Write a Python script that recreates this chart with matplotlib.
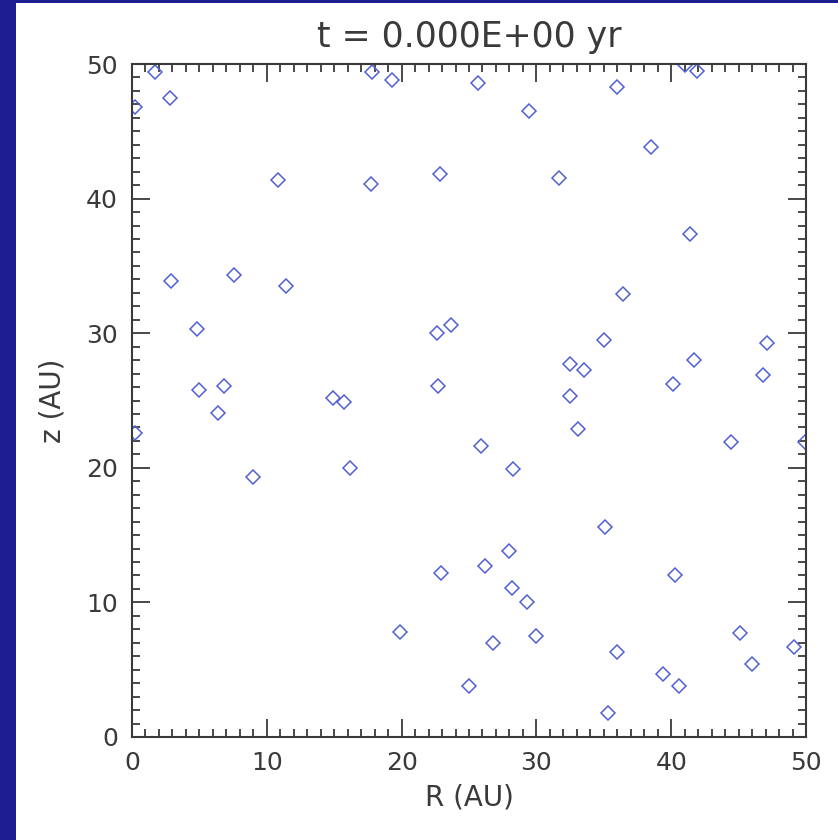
import matplotlib
matplotlib.use("Agg")
import matplotlib.pyplot as plt
from matplotlib.patches import Rectangle
from matplotlib.ticker import MultipleLocator

# particle positions (AU)
r_au = [1.7, 0.2, 2.8, 17.8, 19.3, 10.85, 17.7, 2.9, 7.6, 11.4, 4.85,
        25.7, 29.45, 36.0, 41.0, 41.9, 38.5, 22.85, 31.7, 41.4, 36.4, 22.6, 23.7, 35.0, 47.1,
        5.0, 6.8, 6.4, 0.2, 14.9, 15.7, 9.0, 16.2,
        41.7, 46.8, 32.5, 33.5, 40.1, 22.7, 32.5, 33.1, 44.4, 49.9, 25.9, 28.3, 35.1,
        28.0, 22.9, 26.2, 40.3, 28.2, 29.3,
        19.9, 26.8, 25.0, 30.0, 36.0, 35.3, 39.4, 40.6, 45.1, 46.0, 49.1]
z_au = [49.4, 46.8, 47.5, 49.4, 48.8, 41.4, 41.1, 33.9, 34.3, 33.5, 30.3,
        48.6, 46.5, 48.3, 49.9, 49.5, 43.8, 41.8, 41.5, 37.4, 32.9, 30.0, 30.6, 29.5, 29.3,
        25.8, 26.1, 24.1, 22.6, 25.2, 24.9, 19.3, 20.0,
        28.0, 26.9, 27.7, 27.3, 26.2, 26.1, 25.3, 22.9, 21.9, 21.9, 21.6, 19.9, 15.6,
        13.8, 12.2, 12.7, 12.0, 11.1, 10.0,
        7.8, 7.0, 3.8, 7.5, 6.3, 1.8, 4.65, 3.8, 7.75, 5.4, 6.7]

time_label = "t = 0.000E+00 yr"
ink = "#3a3a3a"

fig = plt.figure(figsize=(8.38, 8.40), dpi=100)
fig.patch.set_facecolor("#1e1e92")
fig.patches.append(Rectangle((16/838, 0), 1 - 16/838, 1 - 3/840,
                             transform=fig.transFigure, facecolor="white",
                             edgecolor="none", zorder=0))

ax = fig.add_axes([132/838, 103/840, 674/838, 673/840])
ax.set_zorder(2)
ax.set_facecolor("white")
ax.plot(r_au, z_au, linestyle="none", marker="D", markersize=7.3,
        markerfacecolor="none", markeredgecolor="#5060d4", markeredgewidth=1.1)

ax.set_xlim(0, 50)
ax.set_ylim(0, 50)
ax.xaxis.set_major_locator(MultipleLocator(10))
ax.yaxis.set_major_locator(MultipleLocator(10))
ax.xaxis.set_minor_locator(MultipleLocator(1))
ax.yaxis.set_minor_locator(MultipleLocator(1))
ax.tick_params(which="both", direction="in", top=True, right=True,
               color=ink, labelcolor=ink, labelsize=18, width=1.3)
ax.tick_params(which="major", length=13, pad=10)
ax.tick_params(which="minor", length=6)
for s in ax.spines.values():
    s.set_color(ink)
    s.set_linewidth(1.5)

ax.set_xlabel("R (AU)", fontsize=20, color=ink, labelpad=6)
ax.set_ylabel("z (AU)", fontsize=20, color=ink, labelpad=14)
ax.set_title(time_label, fontsize=25, color=ink, pad=12)

fig.savefig("out.png", dpi=100, facecolor=fig.get_facecolor())
